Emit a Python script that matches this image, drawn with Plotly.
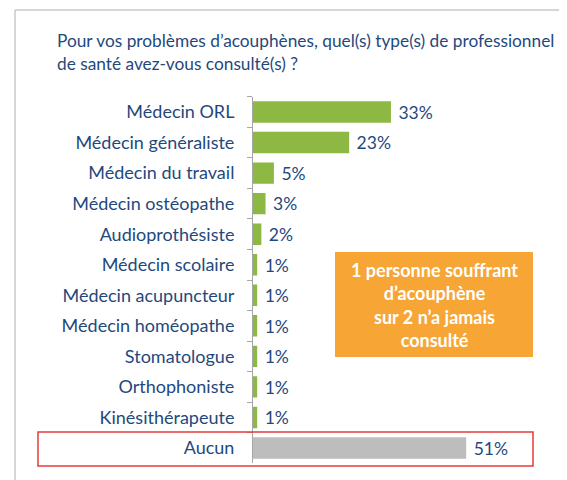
import plotly.graph_objects as go

categories = ["Médecin ORL", "Médecin généraliste", "Médecin du travail", "Médecin ostéopathe",
              "Audioprothésiste", "Médecin scolaire", "Médecin acupuncteur", "Médecin homéopathe",
              "Stomatologue", "Orthophoniste", "Kinésithérapeute", "Aucun"]
values = [33, 23, 5, 3, 2, 1, 1, 1, 1, 1, 1, 51]
bar_colors = ["#8DB843"] * 11 + ["#BDBDBD"]

title_lines = ["Pour vos problèmes d’acouphènes, quel(s) type(s) de professionnel",
               "de santé avez-vous consulté(s) ?"]
callout_text = "1 personne souffrant<br>d’acouphène<br>sur 2 n’a jamais<br>consulté"

OFF = 8  # browser body margin
W, H = 567 - OFF, 480 - OFF
NAVY = "#1F497D"
FONT = "Lato, Open Sans, sans-serif"

def px(x):
    return (x - OFF) / W

def py(y):
    return 1 - (y - OFF) / H

fig = go.Figure(go.Bar(
    x=values, y=categories, orientation="h",
    marker=dict(color=bar_colors, line=dict(width=0)),
    width=0.7,
    text=[f" {v}%" for v in values], textposition="outside",
    textfont=dict(size=18, color=NAVY, family=FONT),
    cliponaxis=False,
))

x0_px = 253
per_pct = 4.18
xmax = (567 - x0_px) / per_pct
top_px, bot_px = 96.75, 463.25

fig.update_layout(
    width=W, height=H,
    margin=dict(l=0, r=0, t=0, b=0),
    paper_bgcolor="white", plot_bgcolor="white",
    showlegend=False,
    font=dict(family=FONT, color=NAVY),
    xaxis=dict(domain=[px(x0_px), 1.0], range=[0, xmax], visible=False, fixedrange=True),
    yaxis=dict(domain=[py(bot_px), py(top_px)], autorange="reversed",
               showline=True, linecolor="#A6A6A6", linewidth=1,
               ticks="outside", tickson="boundaries", ticklen=5, tickcolor="#A6A6A6",
               tickfont=dict(size=18, color=NAVY, family=FONT),
               ticklabelstandoff=14, showgrid=False),
    shapes=[
        dict(type="line", xref="paper", yref="paper", x0=px(15), x1=1.0, y0=py(10), y1=py(10),
             line=dict(color="#C8C8C8", width=1.5)),
        dict(type="line", xref="paper", yref="paper", x0=px(15), x1=px(15), y0=py(10), y1=0,
             line=dict(color="#C8C8C8", width=1.5)),
        dict(type="rect", xref="paper", yref="paper", x0=px(335), x1=px(533), y0=py(357), y1=py(252),
             fillcolor="#F7A535", line=dict(width=0), layer="below"),
        dict(type="rect", xref="paper", yref="paper", x0=px(38), x1=px(533), y0=py(466), y1=py(432),
             line=dict(color="#E53B3B", width=1.5)),
    ],
    annotations=[
        dict(xref="paper", yref="paper", x=px(55), y=py(40), xanchor="left", yanchor="middle",
             text=title_lines[0], showarrow=False, font=dict(size=17.3, color=NAVY, family=FONT)),
        dict(xref="paper", yref="paper", x=px(55), y=py(63), xanchor="left", yanchor="middle",
             text=title_lines[1], showarrow=False, font=dict(size=17.3, color=NAVY, family=FONT)),
        dict(xref="paper", yref="paper", x=px(434), y=py(304.5), xanchor="center", yanchor="middle",
             text="<b>" + callout_text + "</b>", showarrow=False, align="center",
             font=dict(size=18, color="white", family=FONT)),
    ],
)

fig.write_html("out.html")
